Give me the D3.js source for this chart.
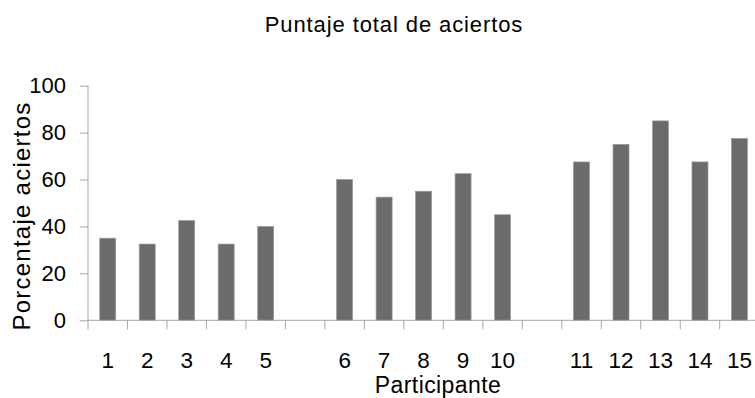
<!DOCTYPE html>
<html><head><meta charset="utf-8">
<script src="https://cdn.jsdelivr.net/npm/d3@7/dist/d3.min.js"></script>
<style>
html,body{margin:0;padding:0;background:#fff;}
svg{display:block;font-family:"Liberation Sans",Arial,sans-serif;}
</style></head>
<body><svg id="c" width="755" height="398"></svg>
<script>
const title = "Puntaje total de aciertos";
const yTitle = "Porcentaje aciertos";
const xTitle = "Participante";
// slots: empty strings separate the three groups
const categories = ["1","2","3","4","5","","6","7","8","9","10","","11","12","13","14","15"];
const values = [35,32.5,42.5,32.5,40,null,60,52.5,55,62.5,45,null,67.5,75,85,67.5,77.5];
const yTicks = [0,20,40,60,80,100];

(function(){
const svg = d3.select("#c");
const pL = 88, pR = 759.2, pT = 85.7, pB = 320.3;
const slots = categories.map((c,i)=>i);
const x = d3.scaleBand().domain(slots).range([pL,pR]).padding(0);
const y = d3.scaleLinear().domain([0,100]).range([pB,pT]);
const axisColor = "#a6a6a6";

// bars
const bw = x.bandwidth()*0.405;
svg.append("g").selectAll("rect")
  .data(values.map((v,i)=>({v,i})).filter(d=>d.v!==null))
  .join("rect")
  .attr("x", d=>x(d.i)+x.bandwidth()/2-bw/2)
  .attr("width", bw)
  .attr("y", d=>y(d.v))
  .attr("height", d=>y(0)-y(d.v))
  .attr("fill","#6b6b6b")
  .attr("stroke","#9a9a9a")
  .attr("stroke-width",0.7);

// y axis
const ya = svg.append("g").attr("transform",`translate(${pL},0)`)
  .call(d3.axisLeft(y).tickValues(yTicks).tickSize(8).tickPadding(14).tickSizeOuter(0));
ya.select(".domain").attr("stroke",axisColor).attr("d",`M0,${pT}V${pB+9}`);
ya.selectAll(".tick line").attr("stroke",axisColor);
ya.selectAll(".tick text").attr("font-size","22px").attr("fill","#000")
  .attr("font-family","Liberation Sans, Arial, sans-serif");

// x axis line and boundary ticks
const xa = svg.append("g");
xa.append("line").attr("x1",pL).attr("x2",pR).attr("y1",pB).attr("y2",pB)
  .attr("stroke",axisColor);
xa.selectAll("line.b").data(slots.slice(1)).join("line").attr("class","b")
  .attr("x1",d=>x(d)).attr("x2",d=>x(d)).attr("y1",pB).attr("y2",pB+9)
  .attr("stroke",axisColor);
xa.selectAll("text").data(categories.map((c,i)=>({c,i})).filter(d=>d.c!==""))
  .join("text")
  .attr("x",d=>x(d.i)+x.bandwidth()/2)
  .attr("y",368)
  .attr("text-anchor","middle")
  .attr("font-size","22.5px")
  .text(d=>d.c);

// titles
svg.append("text").attr("x",394).attr("y",32).attr("text-anchor","middle")
  .attr("font-size","22px").attr("letter-spacing","0.9px").text(title);
svg.append("text").attr("x",438).attr("y",392.5).attr("text-anchor","middle")
  .attr("font-size","23px").attr("letter-spacing","0.4px").text(xTitle);
svg.append("text").attr("transform","translate(30,216) rotate(-90)").attr("text-anchor","middle")
  .attr("font-size","24px").attr("letter-spacing","1.25px").text(yTitle);
})();
</script></body></html>
